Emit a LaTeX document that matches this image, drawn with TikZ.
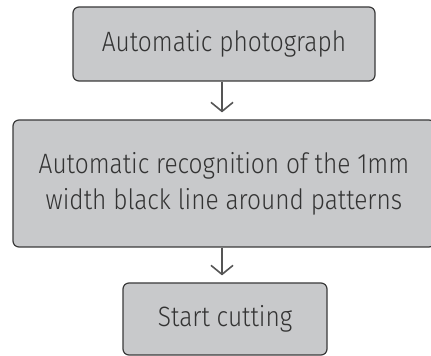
\documentclass[tikz,border=0pt]{standalone}
\usepackage{fontspec}
\setmainfont{Fira Sans Light}[FakeStretch=0.875]
\usetikzlibrary{arrows.meta}
\definecolor{boxfill}{HTML}{C8C9CB}
\definecolor{boxline}{HTML}{3A3A3A}
\definecolor{txt}{HTML}{333333}
\definecolor{arr}{HTML}{555555}
\begin{document}
\begin{tikzpicture}[x=1pt,y=1pt,
  stepbox/.style={draw=boxline, line width=1.2pt, fill=boxfill, rounded corners=6pt,
    text=txt, align=center, inner sep=0pt, font=\fontsize{28}{36}\selectfont},
  flow/.style={draw=arr, line width=1.6pt, shorten >=7pt,
    -{Straight Barb[length=9pt,width=22pt,line width=1.6pt]}}]
\useasboundingbox (0,0) rectangle (431,356);
\node[stepbox, minimum width=302pt, minimum height=74pt] (a) at (224,312) {Automatic photograph};
\node[stepbox, minimum width=422pt, minimum height=127pt] (b) at (224,172.5) {Automatic recognition of the 1mm\\width black line around patterns};
\node[stepbox, minimum width=204pt, minimum height=72pt] (c) at (225,37) {Start cutting};
\draw[flow] ([xshift=-2pt]a.south) -- ([xshift=-2pt]b.north);
\draw[flow] ([xshift=-2pt]b.south) -- ([xshift=-3pt]c.north);
\end{tikzpicture}
\end{document}
